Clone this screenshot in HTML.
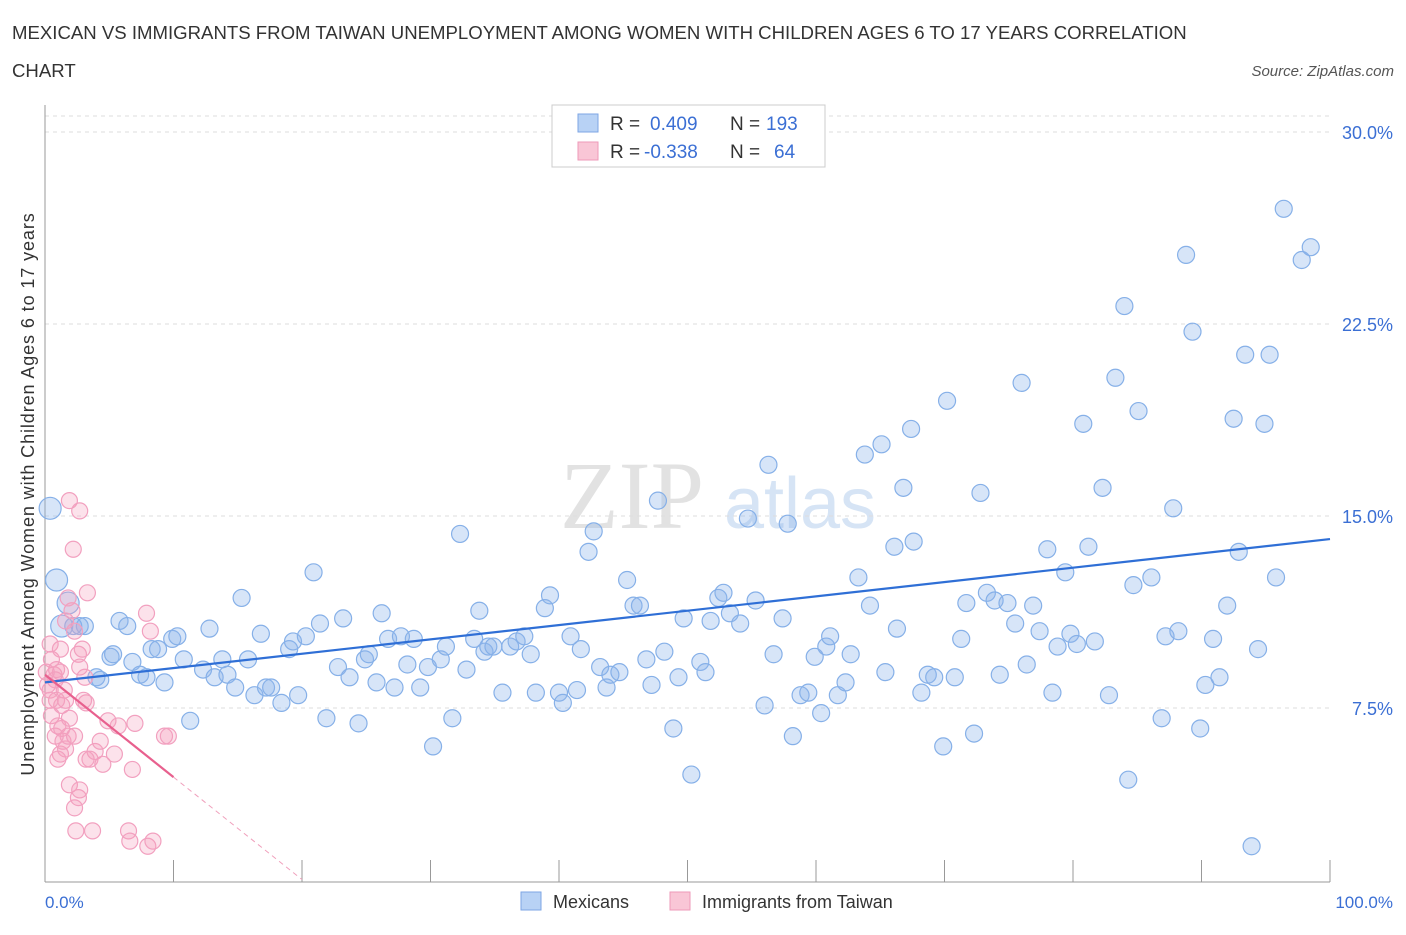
<!DOCTYPE html>
<html><head><meta charset="utf-8"><style>
body{margin:0;background:#fff;font-family:"Liberation Sans",sans-serif;}
</style></head><body>
<svg width="1406" height="930" viewBox="0 0 1406 930" xmlns="http://www.w3.org/2000/svg">
<text x="12" y="39" font-size="18.6" fill="#333">MEXICAN VS IMMIGRANTS FROM TAIWAN UNEMPLOYMENT AMONG WOMEN WITH CHILDREN AGES 6 TO 17 YEARS CORRELATION</text>
<text x="12" y="77" font-size="18.6" fill="#333">CHART</text>
<text x="1394" y="76" font-size="15" fill="#555" font-style="italic" text-anchor="end">Source: ZipAtlas.com</text>
<g>
<text x="632" y="528" font-size="96" fill="#e2e2e2" font-family="Liberation Serif,serif" text-anchor="middle">ZIP</text>
<text x="800" y="528" font-size="72" fill="#d6e4f5" text-anchor="middle">atlas</text>
</g>
<g id="grid"></g>
<g id="axes"></g>
<g id="pts"></g>
<g id="trend"></g>
<text transform="translate(34,494) rotate(-90)" font-size="18" letter-spacing="0.9" fill="#333" text-anchor="middle">Unemployment Among Women with Children Ages 6 to 17 years</text>
<text x="45" y="908" font-size="17" fill="#3b6fd4">0.0%</text>
<text x="1393" y="908" font-size="17" fill="#3b6fd4" text-anchor="end">100.0%</text>
<g>
<rect x="552" y="105" width="273" height="62" fill="#fff" stroke="#ccc"/>
<rect x="578" y="114" width="20" height="18" fill="#b8d2f5" stroke="#7ea6e4"/>
<text x="610" y="130" font-size="19" fill="#333">R =</text>
<text x="650" y="130" font-size="19" fill="#3b6fd4">0.409</text>
<text x="730" y="130" font-size="19" fill="#333">N =</text>
<text x="766" y="130" font-size="19" fill="#3b6fd4">193</text>
<rect x="578" y="142" width="20" height="18" fill="#f9c6d6" stroke="#ee9ab8"/>
<text x="610" y="158" font-size="19" fill="#333">R =</text>
<text x="644" y="158" font-size="19" fill="#3b6fd4">-0.338</text>
<text x="730" y="158" font-size="19" fill="#333">N =</text>
<text x="774" y="158" font-size="19" fill="#3b6fd4">64</text>
</g>
<g>
<rect x="521" y="892" width="20" height="18" fill="#b8d2f5" stroke="#7ea6e4"/>
<text x="553" y="908" font-size="18" fill="#333">Mexicans</text>
<rect x="670" y="892" width="20" height="18" fill="#f9c6d6" stroke="#ee9ab8"/>
<text x="702" y="908" font-size="18" fill="#333">Immigrants from Taiwan</text>
</g>
</svg>
<script>
const yTicks=[7.5,15,22.5,30];
const yTickLabels=["7.5%","15.0%","22.5%","30.0%"];
const xTicks=[0,10,20,30,40,50,60,70,80,90,100];
const blueX=[0.4,0.9,1.8,1.3,2.7,3.1,2.2,4.0,4.3,5.1,5.3,5.8,6.4,6.8,7.4,7.9,8.3,8.8,9.3,9.9,10.3,10.8,11.3,12.3,12.8,13.2,13.8,14.2,14.8,15.3,15.8,16.3,16.8,17.2,17.6,18.4,19.0,19.3,19.7,20.3,20.9,21.4,21.9,22.8,23.2,23.7,24.4,24.9,25.2,25.8,26.2,26.7,27.2,27.7,28.2,28.7,29.2,29.8,30.2,30.8,31.2,31.7,32.3,32.8,33.4,33.8,34.2,34.5,34.9,35.6,36.2,36.7,37.3,37.8,38.2,38.9,39.3,40.0,40.3,40.9,41.4,41.7,42.3,42.7,43.2,43.7,44.0,44.7,45.3,45.8,46.3,46.8,47.2,47.7,48.2,48.9,49.3,49.7,50.3,51.0,51.4,51.8,52.4,52.8,53.3,54.1,54.7,55.3,56.0,56.3,56.7,57.4,57.8,58.2,58.8,59.4,59.9,60.4,60.8,61.1,61.7,62.3,62.7,63.3,63.8,64.2,65.1,65.4,66.1,66.3,66.8,67.4,67.6,68.2,68.7,69.2,69.9,70.2,70.8,71.3,71.7,72.3,72.8,73.3,73.9,74.3,74.9,75.5,76.0,76.4,76.9,77.4,78.0,78.4,78.8,79.4,79.8,80.3,80.8,81.2,81.7,82.3,82.8,83.3,84.0,84.3,84.7,85.1,86.1,86.9,87.2,87.8,88.2,88.8,89.3,89.9,90.3,90.9,91.4,92.0,92.5,92.9,93.4,93.9,94.4,94.9,95.3,95.8,96.4,97.8,98.5];
const blueY=[15.3,12.5,11.6,10.7,10.7,10.7,10.7,8.7,8.6,9.5,9.6,10.9,10.7,9.3,8.8,8.7,9.8,9.8,8.5,10.2,10.3,9.4,7.0,9.0,10.6,8.7,9.4,8.8,8.3,11.8,9.4,8.0,10.4,8.3,8.3,7.7,9.8,10.1,8.0,10.3,12.8,10.8,7.1,9.1,11.0,8.7,6.9,9.4,9.6,8.5,11.2,10.2,8.3,10.3,9.2,10.2,8.3,9.1,6.0,9.4,9.9,7.1,14.3,9.0,10.2,11.3,9.7,9.9,9.9,8.1,9.9,10.1,10.3,9.6,8.1,11.4,11.9,8.1,7.7,10.3,8.2,9.8,13.6,14.4,9.1,8.3,8.8,8.9,12.5,11.5,11.5,9.4,8.4,15.6,9.7,6.7,8.7,11.0,4.9,9.3,8.9,10.9,11.8,12.0,11.2,10.8,14.9,11.7,7.6,17.0,9.6,11.0,14.7,6.4,8.0,8.1,9.5,7.3,9.9,10.3,8.0,8.5,9.6,12.6,17.4,11.5,17.8,8.9,13.8,10.6,16.1,18.4,14.0,8.1,8.8,8.7,6.0,19.5,8.7,10.2,11.6,6.5,15.9,12.0,11.7,8.8,11.6,10.8,20.2,9.2,11.5,10.5,13.7,8.1,9.9,12.8,10.4,10.0,18.6,13.8,10.1,16.1,8.0,20.4,23.2,4.7,12.3,19.1,12.6,7.1,10.3,15.3,10.5,25.2,22.2,6.7,8.4,10.2,8.7,11.5,18.8,13.6,21.3,2.1,9.8,18.6,21.3,12.6,27.0,25.0,25.5];
const pinkX=[0.4,0.5,0.8,0.4,0.7,0.9,1.2,0.2,0.5,1.0,1.3,0.9,1.2,1.4,1.6,1.8,1.9,2.1,2.3,2.4,2.6,2.7,1.9,2.2,2.7,1.6,1.8,2.3,2.6,2.9,3.1,3.2,3.3,3.5,3.7,3.9,4.3,4.5,4.9,5.4,5.7,6.5,6.8,7.0,7.9,8.2,8.0,8.4,9.3,9.6,1.2,1.5,0.1,0.4,0.8,1.0,1.3,1.6,1.9,2.3,2.7,3.0,3.2,6.6];
const pinkY=[10.0,9.4,8.6,8.2,8.8,9.0,8.9,8.4,7.2,6.8,7.6,7.8,5.7,6.2,5.9,6.4,4.5,11.3,3.6,2.7,4.0,4.3,15.6,13.7,15.2,10.9,11.8,10.5,9.6,9.8,8.7,7.7,12.0,5.5,2.7,5.8,6.2,5.3,7.0,5.7,6.8,2.7,5.1,6.9,11.2,10.5,2.1,2.3,6.4,6.4,9.8,8.2,8.9,7.8,6.4,5.5,6.7,7.8,7.1,6.4,9.1,7.8,5.5,2.3];
const blueBig=[0,1,2,3];
const blueTrend=[8.5,14.1];
const pinkTrend=[8.8,4.8,0.8];
const NS="http://www.w3.org/2000/svg";
function sx(v){return 45+v/100*1285;}
function sy(v){return 900-v/7.5*192;}
function mk(tag,attrs,parent){const e=document.createElementNS(NS,tag);for(const k in attrs)e.setAttribute(k,attrs[k]);parent.appendChild(e);return e;}
const grid=document.getElementById('grid'),axes=document.getElementById('axes'),trend=document.getElementById('trend'),pts=document.getElementById('pts');
let g0=mk('line',{x1:45,x2:1330,y1:116,y2:116,stroke:'#ddd','stroke-dasharray':'4,4'},grid);


yTicks.forEach((t,i)=>{
 const l=mk('line',{x1:45,x2:1330,y1:sy(t),y2:sy(t),stroke:'#ddd','stroke-dasharray':'4,4'},grid);
 
 
 const tx=mk('text',{x:1393,y:sy(t)+7,'font-size':18,fill:'#3b6fd4','text-anchor':'end'},grid);
 tx.textContent=yTickLabels[i];
 
 
});
const ya=mk('line',{x1:45,x2:45,y1:105,y2:882,stroke:'#999'},axes);


const xa=mk('line',{x1:45,x2:1330,y1:882,y2:882,stroke:'#999'},axes);


xTicks.forEach(t=>{
 const l=mk('line',{x1:sx(t),x2:sx(t),y1:860,y2:882,stroke:'#999'},axes);
 
 
});
blueX.forEach((x,i)=>{
 const big=blueBig.includes(i);
 const c=mk('circle',{cx:sx(x),cy:sy(blueY[i]),r:big?11:8.5,fill:'rgba(140,180,235,0.35)',stroke:'#86b0e8','stroke-width':1.2},pts);
 
 
});
pinkX.forEach((x,i)=>{
 const c=mk('circle',{cx:sx(x),cy:sy(pinkY[i]),r:8,fill:'rgba(245,160,190,0.3)',stroke:'#f2a0bf','stroke-width':1.2},pts);
 
 
});
const bt=mk('line',{x1:sx(0),y1:sy(blueTrend[0]),x2:sx(100),y2:sy(blueTrend[1]),stroke:'#2f6fd6','stroke-width':2.2},trend);


const pt=mk('line',{x1:sx(0),y1:sy(pinkTrend[0]),x2:sx(10),y2:sy(pinkTrend[1]),stroke:'#e8608e','stroke-width':2.2},trend);


const pd=mk('line',{x1:sx(10),y1:sy(pinkTrend[1]),x2:sx(20),y2:sy(pinkTrend[2]),stroke:'#f0a0bc','stroke-width':1,'stroke-dasharray':'5,4'},trend);


</script>
</body></html>
